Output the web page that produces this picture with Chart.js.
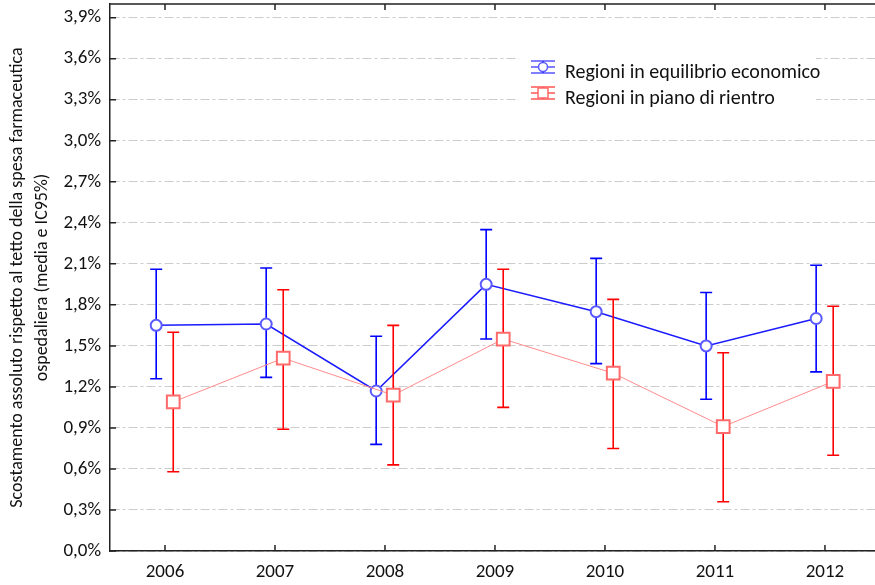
<!DOCTYPE html>
<html>
<head>
<meta charset="utf-8">
<title>Scostamento spesa farmaceutica ospedaliera</title>
<script src="https://cdn.jsdelivr.net/npm/chart.js@4/dist/chart.umd.min.js"></script>
<style>
  html, body { margin: 0; padding: 0; background: #fff; overflow: hidden; }
  #wrap { width: 875px; height: 585px; position: relative; }
</style>
</head>
<body>
<div id="wrap"><canvas id="chart"></canvas></div>
<script>
// Data (values in %)
const YEARS = [2006, 2007, 2008, 2009, 2010, 2011, 2012];
const Y_TICKS = [0, 0.3, 0.6, 0.9, 1.2, 1.5, 1.8, 2.1, 2.4, 2.7, 3.0, 3.3, 3.6, 3.9];

const EQ_LABEL = 'Regioni in equilibrio economico';
const EQ_MEAN = [1.65, 1.66, 1.17, 1.95, 1.75, 1.50, 1.70];
const EQ_LOW = [1.26, 1.27, 0.78, 1.55, 1.37, 1.11, 1.31];
const EQ_HIGH = [2.06, 2.07, 1.57, 2.35, 2.14, 1.89, 2.09];

const PR_LABEL = 'Regioni in piano di rientro';
const PR_MEAN = [1.09, 1.41, 1.14, 1.55, 1.30, 0.91, 1.24];
const PR_LOW = [0.58, 0.89, 0.63, 1.05, 0.75, 0.36, 0.70];
const PR_HIGH = [1.60, 1.91, 1.65, 2.06, 1.84, 1.45, 1.79];

const Y_TITLE = ['Scostamento assoluto rispetto al tetto della spesa farmaceutica', 'ospedaliera (media e IC95%)'];

// small horizontal shift so the two series don't overlap
const EQ_SHIFT = -0.08;
const PR_SHIFT = 0.075;

const FONT = 'Carlito, "Open Sans", Lato, sans-serif';
const AXIS_COLOR = '#222';

function fmtPct(v) {
    return v.toFixed(1).replace('.', ',') + '%';
}

function toPoints(values, shift) {
    return values.map((v, i) => ({ x: YEARS[i] + shift, y: v }));
}

// error bars, drawn just before each dataset's line/markers
const errorBars = {
    id: 'errorBars',
    beforeDatasetDraw(chart, args) {
        const ds = chart.data.datasets[args.index];
        if (!ds.errLow) return;
        const yScale = chart.scales.y;
        const ctx = chart.ctx;
        ctx.save();
        ctx.strokeStyle = ds.errColor;
        ctx.lineWidth = 1.6;
        args.meta.data.forEach((pt, i) => {
            const yl = yScale.getPixelForValue(ds.errLow[i]);
            const yh = yScale.getPixelForValue(ds.errHigh[i]);
            ctx.beginPath();
            ctx.moveTo(pt.x, yl);
            ctx.lineTo(pt.x, yh);
            ctx.moveTo(pt.x - 6, yl);
            ctx.lineTo(pt.x + 6, yl);
            ctx.moveTo(pt.x - 6, yh);
            ctx.lineTo(pt.x + 6, yh);
            ctx.stroke();
        });
        ctx.restore();
    }
};

// frame on top + inward tick marks + legend box
const frameAndLegend = {
    id: 'frameAndLegend',
    afterDraw(chart) {
        const ctx = chart.ctx;
        const area = chart.chartArea;
        const xs = chart.scales.x;
        const ys = chart.scales.y;
        ctx.save();
        ctx.strokeStyle = AXIS_COLOR;
        ctx.lineWidth = 1.5;
        ctx.beginPath();
        ctx.moveTo(area.left, area.top);
        ctx.lineTo(area.right, area.top);
        Y_TICKS.forEach(v => {
            const y = ys.getPixelForValue(v);
            ctx.moveTo(area.left, y);
            ctx.lineTo(area.left + 6, y);
        });
        YEARS.forEach(yr => {
            const x = xs.getPixelForValue(yr);
            ctx.moveTo(x, area.bottom);
            ctx.lineTo(x, area.bottom - 6);
            ctx.moveTo(x, area.top);
            ctx.lineTo(x, area.top + 6);
        });
        ctx.stroke();

        // legend
        ctx.fillStyle = '#fff';
        ctx.fillRect(519, 50, 297, 58);
        const rows = [
            { ds: chart.data.datasets[0], y: 67 },
            { ds: chart.data.datasets[1], y: 93 }
        ];
        rows.forEach(r => {
            const cx = 543;
            ctx.strokeStyle = r.ds.errColor;
            ctx.lineWidth = 1.2;
            ctx.beginPath();
            ctx.moveTo(531, r.y - 6); ctx.lineTo(555, r.y - 6);
            ctx.moveTo(531, r.y + 6); ctx.lineTo(555, r.y + 6);
            ctx.moveTo(531, r.y); ctx.lineTo(555, r.y);
            ctx.moveTo(cx, r.y - 6); ctx.lineTo(cx, r.y + 6);
            ctx.stroke();
            ctx.fillStyle = '#fff';
            ctx.strokeStyle = r.ds.pointBorderColor;
            ctx.lineWidth = 1.5;
            ctx.beginPath();
            if (r.ds.pointStyle === 'rect') {
                ctx.rect(cx - 5, r.y - 5, 10, 10);
            } else {
                ctx.arc(cx, r.y, 4.5, 0, Math.PI * 2);
            }
            ctx.fill();
            ctx.stroke();
            ctx.fillStyle = '#111';
            ctx.font = '20px ' + FONT;
            ctx.textBaseline = 'alphabetic';
            ctx.textAlign = 'left';
            ctx.fillText(r.ds.label, 565, r.y + 11);
        });
        ctx.restore();
    }
};

// no automatic padding around the plot area
function noPad(scale) {
    scale.paddingTop = 0;
    scale.paddingBottom = 0;
    scale.paddingLeft = 0;
    scale.paddingRight = 0;
}

const ctx = document.getElementById('chart');

new Chart(ctx, {
    type: 'line',
    data: {
        datasets: [{
            label: EQ_LABEL,
            data: toPoints(EQ_MEAN, EQ_SHIFT),
            errLow: EQ_LOW,
            errHigh: EQ_HIGH,
            errColor: '#0000ff',
            borderColor: '#1a1aff',
            borderWidth: 1.5,
            pointStyle: 'circle',
            pointRadius: 5.5,
            pointBorderWidth: 2,
            pointBackgroundColor: '#fff',
            pointBorderColor: '#5a5aff',
            tension: 0,
            order: 2
        }, {
            label: PR_LABEL,
            data: toPoints(PR_MEAN, PR_SHIFT),
            errLow: PR_LOW,
            errHigh: PR_HIGH,
            errColor: '#ff0000',
            borderColor: '#ff8c8c',
            borderWidth: 1,
            pointStyle: 'rect',
            pointRadius: 9,
            pointBorderWidth: 2,
            pointBackgroundColor: '#fff',
            pointBorderColor: '#ff6a6a',
            tension: 0,
            order: 1
        }]
    },
    options: {
        responsive: true,
        maintainAspectRatio: false,
        animation: false,
        layout: { autoPadding: false, padding: { top: 4, left: 0, right: 0, bottom: 0 } },
        plugins: {
            legend: { display: false },
            tooltip: { enabled: false }
        },
        scales: {
            x: {
                type: 'linear',
                min: 2005.5,
                max: 2012.455,
                afterBuildTicks: scale => { scale.ticks = YEARS.map(v => ({ value: v })); },
                afterFit: scale => { noPad(scale); scale.height = 34; },
                grid: { display: false, drawTicks: false },
                border: { display: true, color: AXIS_COLOR, width: 1.5 },
                ticks: {
                    padding: 10,
                    color: '#111',
                    font: { family: FONT, size: 19 },
                    callback: v => String(v)
                }
            },
            y: {
                min: 0,
                max: 4.0,
                afterBuildTicks: scale => { scale.ticks = Y_TICKS.map(v => ({ value: v })); },
                afterFit: scale => { noPad(scale); scale.width = 110; },
                grid: { color: '#cccccc', lineWidth: 1, drawTicks: false },
                border: { display: true, color: AXIS_COLOR, width: 1.5, dash: [9, 3, 3, 3] },
                ticks: {
                    padding: 9,
                    color: '#111',
                    font: { family: FONT, size: 19 },
                    callback: v => fmtPct(v)
                },
                title: {
                    display: true,
                    text: Y_TITLE,
                    color: '#111',
                    font: { family: FONT, size: 18, lineHeight: 1.4 },
                    padding: { top: 5, bottom: 0 }
                }
            }
        }
    },
    plugins: [errorBars, frameAndLegend]
});
</script>
</body>
</html>
